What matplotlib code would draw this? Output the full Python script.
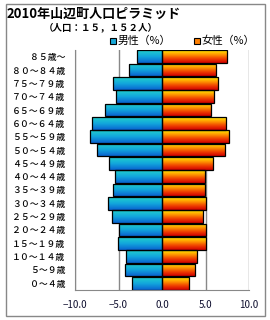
import numpy as np
import matplotlib
matplotlib.use('Agg')
import matplotlib.pyplot as plt
from matplotlib.colors import LinearSegmentedColormap
from matplotlib.patches import Rectangle

plt.rcParams['font.family'] = ['Noto Sans CJK JP', 'DejaVu Sans']

# 年齢階級 (下から上へ)
ages = ['０～４歳', '５～９歳', '１０～１４歳', '１５～１９歳', '２０～２４歳', '２５～２９歳',
        '３０～３４歳', '３５～３９歳', '４０～４４歳', '４５～４９歳', '５０～５４歳', '５５～５９歳',
        '６０～６４歳', '６５～６９歳', '７０～７４歳', '７５～７９歳', '８０～８４歳', '８５歳～']
male = [3.5, 4.2, 4.1, 5.05, 4.95, 5.7, 6.2, 5.6, 5.35, 6.05, 7.5, 8.3, 8.0, 6.5, 5.3, 5.6, 3.8, 2.9]
female = [3.1, 3.8, 4.0, 5.05, 5.05, 4.7, 5.05, 4.9, 4.9, 5.85, 7.25, 7.7, 7.35, 5.6, 6.0, 6.45, 6.2, 7.45]
xticks = [-10, -5, 0, 5, 10]

title = '2010年山辺町人口ピラミッド'
subtitle = '（人口：１５，１５２人）'

cm_male = LinearSegmentedColormap.from_list('m', ['#22d0cc', '#12a6dc', '#0a62d0'])
cm_female = LinearSegmentedColormap.from_list('f', ['#ffec00', '#ff9a00', '#f04000', '#d00000'])

fig = plt.figure(figsize=(2.7, 3.2), dpi=100)
ax = fig.add_axes([75/270, 1-290/320, 174/270, 240/320])

y = np.arange(len(ages))
h = 0.94
grad = np.linspace(0, 1, 64).reshape(-1, 1)

def draw(vals, cmap):
    bars = ax.barh(y, vals, height=h, facecolor='none', edgecolor='black', lw=0.9, zorder=3)
    for b in bars:
        x0 = b.get_x(); x1 = x0 + b.get_width()
        y0 = b.get_y(); y1 = y0 + b.get_height()
        im = ax.imshow(grad, cmap=cmap, aspect='auto', extent=(min(x0, x1), max(x0, x1), y0, y1),
                       origin='upper', zorder=2, interpolation='bilinear')
        im.set_clip_path(b)

draw([-v for v in male], cm_male)
draw(female, cm_female)

ax.set_xlim(-10, 10)
ax.set_ylim(-0.5, len(ages) - 0.5)
ax.set_xticks(xticks)
ax.set_xticklabels(['{:.1f}'.format(t).replace('-', '−') for t in xticks], fontsize=7, color='#101030')
ax.set_yticks(y)
ax.set_yticklabels(ages, fontsize=6.4, fontweight='medium')
ax.tick_params(length=0)
ax.tick_params(axis='x', pad=7.5)
ax.tick_params(axis='y', pad=7)
ax.grid(axis='x', color='#888888', lw=1)
ax.set_axisbelow(True)
for s in ['top', 'right']:
    ax.spines[s].set_visible(False)
for s in ['left', 'bottom']:
    ax.spines[s].set_color('#888888')

fig.text(7/270, 1-14/320, title, fontsize=9.4, fontweight='bold', va='center', ha='left')
fig.text(44/270, 1-27/320, subtitle, fontsize=6.8, fontweight='bold', va='center', ha='left')

# 凡例
fig.patches.append(Rectangle((110/270, 1-44/320), 6/270, 6/320, transform=fig.transFigure,
                             facecolor='#18a8d8', edgecolor='black', lw=0.8))
fig.text(118/270, 1-41/320, '男性（%）', fontsize=7.8, va='center', ha='left')
fig.patches.append(Rectangle((194/270, 1-44/320), 6/270, 6/320, transform=fig.transFigure,
                             facecolor='#ff8000', edgecolor='black', lw=0.8))
fig.text(202/270, 1-41/320, '女性（%）', fontsize=7.8, va='center', ha='left')

fig.patches.append(Rectangle((5.5/270, 1-315.7/320), 259/270, 312/320, transform=fig.transFigure,
                             facecolor='none', edgecolor='#888888', lw=1))

fig.savefig('out.png', dpi=100)
